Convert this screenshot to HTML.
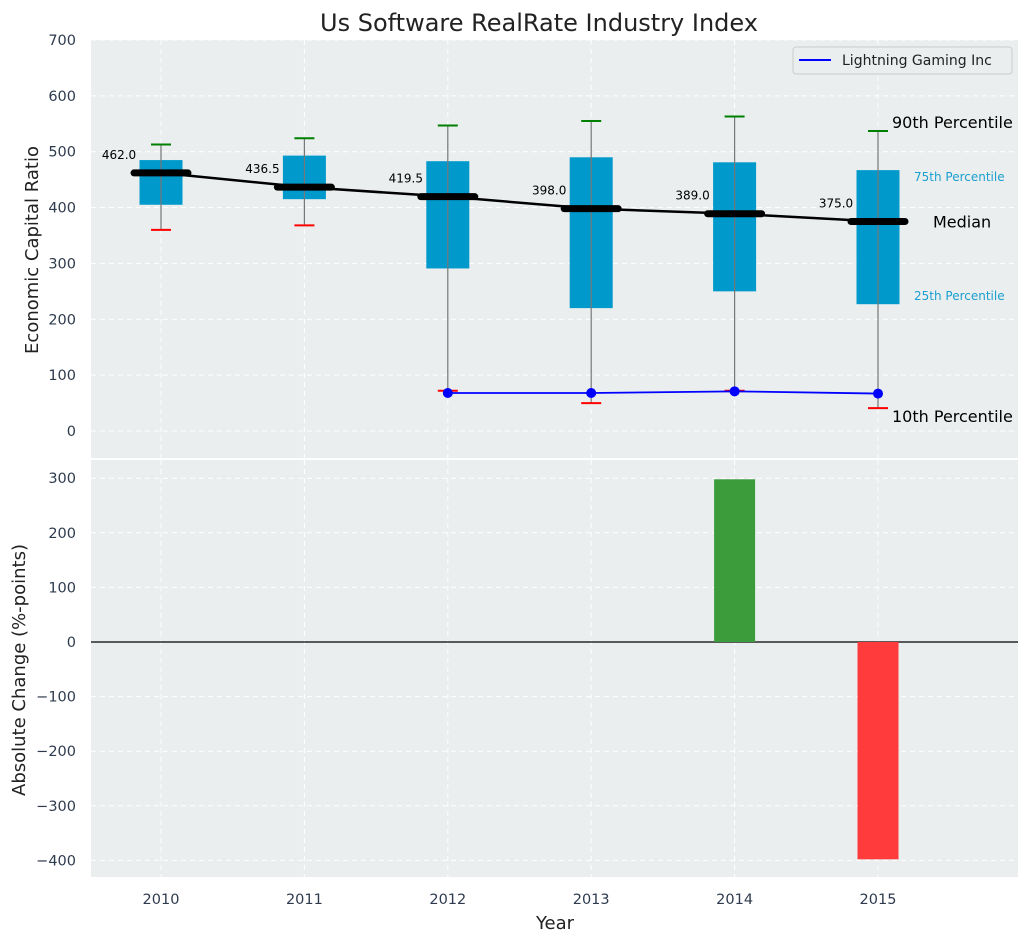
<!DOCTYPE html>
<html><head><meta charset="utf-8"><style>
html,body{margin:0;padding:0;background:#fff;}
svg{display:block;font-family:"DejaVu Sans","Liberation Sans",sans-serif;}
</style></head><body>
<svg id="c" width="1029" height="942" viewBox="0 0 1029 942"></svg>
<script>
const years=[2010,2011,2012,2013,2014,2015];
const p10=[360,368,72,50,72,41];
const q1=[405,415,291,220,250,227];
const med=[462.0,436.5,419.5,398.0,389.0,375.0];
const q3=[485,493,483,490,481,467];
const p90=[513,524,547,555,563,537];
const compYears=[2012,2013,2014,2015];
const compVals=[68,68,71,67];
const changeYears=[2014,2015];
const changeVals=[298,-398];
const topTicks=[0,100,200,300,400,500,600,700];
const botTicks=[-400,-300,-200,-100,0,100,200,300];

const svg=document.getElementById('c');
const NS='http://www.w3.org/2000/svg';
function mk(tag,attrs,parent,text){const e=document.createElementNS(NS,tag);for(const k in attrs)e.setAttribute(k,attrs[k]);if(text!==undefined)e.textContent=text;(parent||svg).appendChild(e);return e;}
const L=91,R=1018;
const xs=y=>161+(y-2010)*143.4;
const yt=v=>431-v*0.5586;
const yb=v=>642-v*0.546;

const pt=mk('rect',{x:L,y:40,width:R-L,height:418,fill:'#eaeeee'});

const pb=mk('rect',{x:L,y:460,width:R-L,height:417,fill:'#eaeeee'});


years.forEach(y=>{mk('line',{x1:xs(y),x2:xs(y),y1:40,y2:458,stroke:'#fff','stroke-dasharray':'5,4'});mk('line',{x1:xs(y),x2:xs(y),y1:460,y2:877,stroke:'#fff','stroke-dasharray':'5,4'});});
topTicks.forEach(v=>{mk('line',{x1:L,x2:R,y1:yt(v),y2:yt(v),stroke:'#fff','stroke-dasharray':'5,4'});
 const t=mk('text',{x:76,y:yt(v)+5,'text-anchor':'end','font-size':14.5,fill:'#2e3b4e'},svg,String(v));
 });
botTicks.forEach(v=>{mk('line',{x1:L,x2:R,y1:yb(v),y2:yb(v),stroke:'#fff','stroke-dasharray':'5,4'});
 const t=mk('text',{x:76,y:yb(v)+5,'text-anchor':'end','font-size':14.5,fill:'#2e3b4e'},svg,String(v).replace('-','\u2212'));
 });
years.forEach(y=>{const t=mk('text',{x:xs(y),y:904,'text-anchor':'middle','font-size':14.5,fill:'#2e3b4e'},svg,String(y));
 });

years.forEach((y,i)=>{const x=xs(y);
 const b=mk('rect',{x:x-21.5,y:yt(q3[i]),width:43,height:yt(q1[i])-yt(q3[i]),fill:'#0099cc'});
 
 mk('line',{x1:x,x2:x,y1:yt(p90[i]),y2:yt(p10[i]),stroke:'#777','stroke-width':1.2});
 mk('line',{x1:x-10,x2:x+10,y1:yt(p90[i]),y2:yt(p90[i]),stroke:'green','stroke-width':2});
 mk('line',{x1:x-10,x2:x+10,y1:yt(p10[i]),y2:yt(p10[i]),stroke:'red','stroke-width':2});
});
const pts=years.map((y,i)=>xs(y)+','+yt(med[i])).join(' ');
const ml=mk('polyline',{points:pts,fill:'none',stroke:'#000','stroke-width':2.5});

years.forEach((y,i)=>{const x=xs(y);
 const m=mk('line',{x1:x-27,x2:x+27,y1:yt(med[i]),y2:yt(med[i]),stroke:'#000','stroke-width':7,'stroke-linecap':'round'});
 
 const t=mk('text',{x:x-42,y:yt(med[i])-14,'text-anchor':'middle','font-size':12,fill:'#000'},svg,med[i].toFixed(1));
 
});
const cl=mk('polyline',{points:compYears.map((y,i)=>xs(y)+','+yt(compVals[i])).join(' '),fill:'none',stroke:'blue','stroke-width':1.8});

compYears.forEach((y,i)=>{const c=mk('circle',{cx:xs(y),cy:yt(compVals[i]),r:5,fill:'blue'});
 });

const last=years.length-1, lx=xs(years[last]);
[['90th Percentile',lx+14,yt(p90[last])-3,16,'#000','start'],
 ['75th Percentile',lx+36,yt(q3[last])+11,12,'#1a9fcf','start'],
 ['Median',lx+55,yt(med[last])+6,16,'#000','start'],
 ['25th Percentile',lx+36,yt(q1[last])-4,12,'#1a9fcf','start'],
 ['10th Percentile',lx+14,yt(p10[last])+14,16,'#000','start']].forEach(a=>{
 const t=mk('text',{x:a[1],y:a[2],'font-size':a[3],fill:a[4],'text-anchor':a[5]},svg,a[0]);
 });

const lg=mk('g',{});
mk('rect',{x:793,y:47,width:219,height:27,rx:3,fill:'#eaeeee',stroke:'#ccc'},lg);
mk('line',{x1:799,x2:831,y1:60,y2:60,stroke:'blue','stroke-width':2},lg);
mk('text',{x:842,y:65,'font-size':14,fill:'#222'},lg,'Lightning Gaming Inc');

mk('line',{x1:L,x2:R,y1:yb(0),y2:yb(0),stroke:'#000','stroke-width':1.2});
changeYears.forEach((y,i)=>{const v=changeVals[i];
 const b=mk('rect',{x:xs(y)-20.5,y:Math.min(yb(0),yb(v)),width:41,height:Math.abs(yb(v)-yb(0)),fill:v>=0?'#3c9c3c':'#ff3b3b'});
 });

let t=mk('text',{x:539,y:31,'text-anchor':'middle','font-size':24,fill:'#222'},svg,'Us Software RealRate Industry Index');

t=mk('text',{x:555,y:929,'text-anchor':'middle','font-size':18,fill:'#222'},svg,'Year');

t=mk('text',{x:38,y:250,'text-anchor':'middle','font-size':18,fill:'#222',transform:'rotate(-90 38 250)'},svg,'Economic Capital Ratio');

t=mk('text',{x:25,y:670,'text-anchor':'middle','font-size':18,fill:'#222',transform:'rotate(-90 25 670)'},svg,'Absolute Change (%-points)');

</script>
</body></html>
